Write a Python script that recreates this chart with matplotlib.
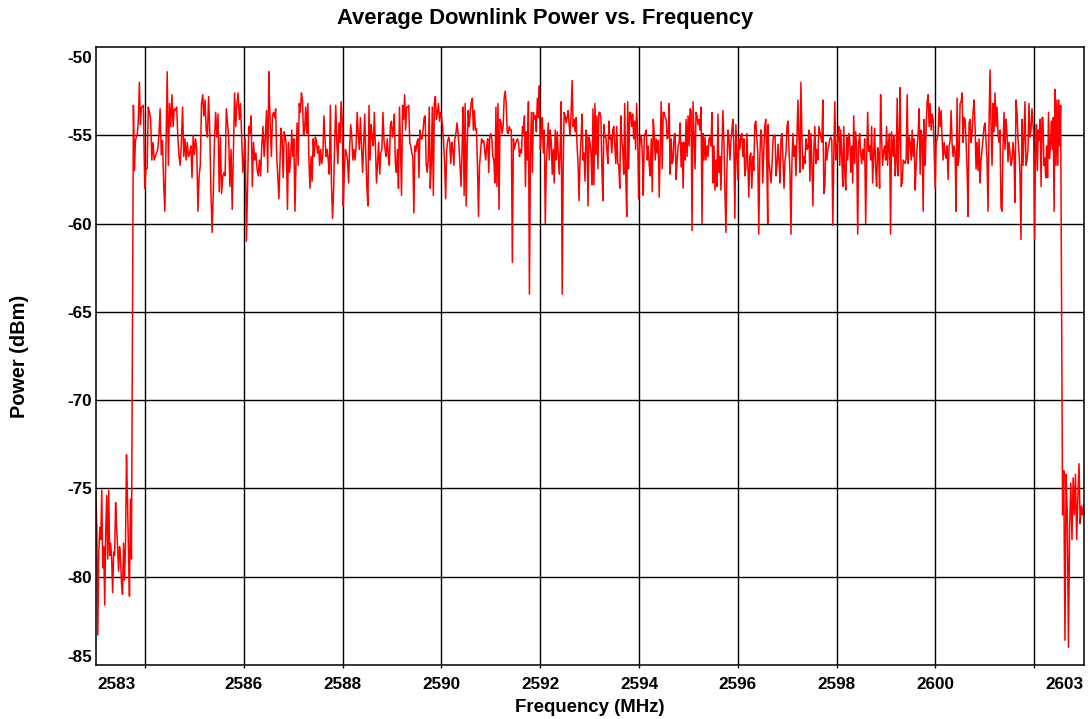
import numpy as np
import matplotlib
matplotlib.use("Agg")
import matplotlib.pyplot as plt

plt.rcParams['font.family'] = ['Liberation Sans', 'DejaVu Sans']
plt.rcParams['font.weight'] = 'bold'

# sweep readings in dBm, one list per stretch of the band
low_left = [-75.2, -77.2, -83.3, -78.6, -77.2, -77.9, -75.1, -79.5, -78.3, -81.6,
            -77.4, -75.4, -79.0, -75.1, -78.8, -78.1, -79.0, -80.9, -78.6, -78.8,
            -75.8, -77.2, -78.3, -79.7, -78.3, -79.0, -80.4, -81.0, -78.1, -80.2,
            -78.1, -73.1, -75.6, -78.6, -81.1, -75.6, -79.0]
band_a = [-53.3, -57.0, -55.3, -55.1, -54.9, -54.0, -52.0, -54.4, -53.4, -53.4, -53.3]
band_b = [-58.0, -56.9, -56.9, -53.4, -53.7, -54.1, -56.4, -55.4, -56.4, -56.2, -56.0,
          -55.8, -55.0, -53.5, -56.1, -55.3, -57.7, -59.3, -55.6, -51.4, -56.7, -53.2,
          -54.5, -52.7, -54.5, -53.5, -53.6, -53.4, -55.1, -56.2, -56.7, -55.4, -53.4,
          -56.2, -55.2, -56.4, -55.4, -56.2, -56.0, -55.6, -57.4, -55.0, -56.1, -55.2,
          -55.8, -59.3, -57.3, -56.7, -53.2, -52.7, -53.9, -53.0, -54.7, -55.1, -52.8,
          -54.7, -58.2, -60.5, -58.2, -55.2, -53.7, -55.1, -53.8, -58.2, -55.1, -58.3,
          -57.3, -57.1, -57.3, -53.5, -54.3, -55.1, -57.9, -55.8, -59.2, -55.8, -52.6,
          -54.5, -53.2, -52.6, -54.1, -53.2, -55.1, -57.1, -56.2, -55.2, -61.0, -57.9,
          -54.5, -54.9, -53.9, -57.9, -55.4, -56.4, -56.0, -56.9, -57.3, -56.4, -57.3,
          -55.6, -54.5, -56.2, -55.1, -53.6, -57.1, -51.4]
band_c = [-52.6, -54.5, -56.2, -53.9, -53.7, -54.0, -53.5, -56.2, -57.3, -58.6, -56.6,
          -54.6, -55.2, -57.4, -54.8, -55.1, -55.6, -59.2, -55.4, -57.1, -56.2, -54.7,
          -56.2, -55.2, -59.3, -56.4, -54.3, -56.7, -53.2, -53.7, -52.6, -53.0, -55.0,
          -54.7, -53.4, -54.9, -53.2, -56.4, -58.0, -56.2, -57.6, -55.2, -56.2, -55.1,
          -55.3, -56.0, -55.6, -56.7, -55.8, -56.6, -56.1, -53.9, -55.2, -56.2, -55.8,
          -56.4, -57.2, -53.3, -57.7, -59.7, -58.2, -55.4, -53.3, -55.4, -56.6, -54.3,
          -55.4, -53.1, -54.1, -59.0, -57.1, -55.8, -56.0, -56.4, -57.7, -55.6, -54.4,
          -55.1, -56.4, -55.8, -56.4, -55.6, -53.7, -54.9, -55.8, -54.0, -55.6, -57.1,
          -55.6, -53.8, -56.0, -57.9, -59.0, -53.3, -56.4, -54.4, -55.1, -55.6, -53.7,
          -55.8, -57.7, -56.6, -55.4, -57.2, -56.0, -55.8, -53.7, -55.3, -55.8, -56.2,
          -55.2, -56.1, -56.7, -54.4, -54.2, -55.1, -54.5]
band_d = [-53.8, -56.6, -57.1, -55.8, -58.0, -53.4, -55.7, -58.4, -53.3, -54.1, -52.7,
          -54.7, -53.4, -53.4, -53.3, -55.4, -55.6, -56.0, -56.2, -59.4, -55.6, -55.9,
          -55.4, -55.2, -57.4, -54.7, -55.2, -55.2, -54.7, -54.0, -53.9, -56.6, -57.1,
          -56.4, -53.4, -58.0, -56.6, -53.4, -58.4, -53.2, -52.8, -54.1, -53.7, -53.2,
          -54.2, -53.7, -54.0, -54.5, -55.4, -56.6, -58.6, -55.8, -55.3, -55.1, -55.4,
          -56.6, -55.4, -55.8, -56.7, -55.2, -54.9, -54.3, -54.8, -55.6, -56.7, -57.9,
          -55.8, -53.4, -58.4, -53.2, -59.0, -55.6, -53.6, -54.5, -53.7, -53.1, -52.9,
          -54.7, -53.6, -54.7, -54.6, -56.7, -59.6, -56.7, -56.0, -55.2, -55.4, -55.3,
          -55.8, -56.4, -55.6, -55.2, -57.1, -55.1, -54.9, -55.2, -56.2, -56.4, -57.7,
          -53.4, -57.9, -53.2, -59.2, -54.1, -54.3, -54.9, -54.5, -52.9, -52.5, -53.2,
          -54.8, -54.9, -54.5, -54.7, -54.7, -62.2, -55.2, -55.8, -55.5, -55.3, -55.2,
          -55.4]
band_e = [-56.2, -55.8, -56.0, -54.5, -54.9, -53.9, -57.9, -54.8, -56.4, -53.1, -64.0,
          -56.2, -53.7, -57.1, -53.7, -54.1, -53.9, -54.8, -52.9, -54.0, -52.2, -55.8,
          -55.0, -54.0, -56.0, -54.7, -60.0, -56.6, -55.6, -54.3, -56.4, -54.7, -55.4,
          -57.2, -55.8, -57.7, -54.7, -56.4, -54.8, -56.0, -57.2, -55.8, -53.1, -64.0,
          -56.9, -53.7, -53.9, -54.3, -54.0, -53.6, -54.4, -55.0, -53.7, -51.9, -54.5,
          -54.1, -54.8, -54.0, -55.6, -56.6, -58.7, -56.3, -55.2, -53.8, -56.4, -56.0,
          -57.6, -54.7, -55.1, -59.0, -55.1, -55.4, -56.0, -57.8, -53.5, -57.8, -53.2,
          -56.1, -53.9, -56.9, -53.7, -53.7, -54.0, -56.9, -58.7, -54.4, -55.1, -55.1,
          -55.8, -56.6, -54.2, -55.2, -55.1, -56.0, -54.7, -54.5, -55.6, -56.6, -54.5,
          -56.6, -56.7, -58.0, -53.9, -55.2, -55.8, -57.2, -53.2, -57.1, -59.6, -53.1,
          -56.9, -53.7, -53.7, -54.5, -53.8, -55.2, -54.2, -55.8, -53.2, -54.9, -58.6,
          -55.7, -55.0, -55.2, -56.4]
band_f = [-58.4, -55.0, -54.9, -54.7, -56.4, -55.6, -56.7, -57.3, -55.2, -58.2, -54.1,
          -54.9, -56.4, -55.2, -56.0, -55.3, -58.5, -55.8, -53.1, -56.9, -53.7, -53.7,
          -54.0, -54.1, -55.2, -55.1, -53.2, -57.2, -55.2, -56.6, -56.4, -55.0, -54.9,
          -57.5, -56.4, -55.6, -55.4, -54.3, -56.8, -55.4, -58.0, -55.4, -56.4, -54.1,
          -56.2, -53.9, -55.6, -53.5, -53.6, -60.4, -53.1, -54.9, -56.9, -53.7, -53.9,
          -54.4, -54.1, -54.7, -53.4, -60.0, -54.9, -56.4, -55.1, -56.4, -55.6, -56.2,
          -55.2, -55.1, -55.6, -53.7, -57.7, -55.6, -58.1, -56.4, -57.9, -53.8, -57.1,
          -56.2, -58.1, -55.7, -53.6, -55.4, -58.2, -60.5, -56.9, -54.7, -55.1, -56.4,
          -55.4, -54.7, -54.1, -55.6, -59.7, -54.4, -56.0, -57.5, -55.2, -55.8, -55.0,
          -54.9, -56.2, -55.2, -57.3, -56.9, -54.9, -56.6, -58.5, -56.2, -56.0, -58.0,
          -56.2, -57.0, -54.4, -54.2, -55.1, -56.0, -60.6, -56.4, -54.7, -55.1, -57.7,
          -56.0, -54.5, -54.1, -56.2, -60.0]
band_g = [-54.4, -56.6, -57.1, -57.7, -56.6, -55.2, -55.0, -55.0, -57.3, -56.7, -55.5,
          -56.4, -57.7, -55.2, -54.9, -56.4, -58.0, -56.4, -56.0, -54.5, -54.2, -55.8,
          -57.1, -60.6, -56.4, -54.9, -56.2, -55.6, -57.3, -55.2, -53.0, -55.2, -57.1,
          -52.0, -55.1, -56.9, -56.2, -56.6, -55.2, -55.8, -55.7, -54.7, -57.6, -54.9,
          -56.6, -59.0, -55.8, -54.5, -56.6, -55.8, -56.4, -54.5, -54.8, -55.1, -55.4,
          -53.0, -58.3, -57.9, -55.4, -56.4, -55.8, -55.6, -55.2, -55.1, -55.3, -60.1,
          -56.2, -53.1, -56.4, -55.8, -55.1, -54.5, -56.7, -54.7, -56.2, -57.9, -54.5,
          -57.1, -58.1, -55.1, -56.4, -54.9, -55.2, -57.1, -55.6, -57.7, -53.9, -56.6,
          -54.8, -55.8, -60.6, -55.4, -54.9, -56.0, -56.6, -55.8, -56.4, -55.2, -60.0,
          -56.4, -53.7, -55.9, -55.6, -56.4, -54.5, -57.7, -56.2, -54.6, -56.9, -57.9,
          -55.7, -56.0, -58.0, -52.7, -55.2, -56.7, -55.9, -55.6, -56.4, -54.5, -56.7,
          -55.4, -54.9, -60.6, -54.8, -55.6]
band_h = [-56.2, -55.0, -57.3, -56.4, -52.9, -57.3, -55.1, -52.3, -57.9, -57.7, -56.4,
          -56.5, -56.6, -56.3, -52.7, -56.6, -55.1, -55.4, -56.4, -54.7, -56.2, -55.2,
          -58.1, -56.7, -55.6, -54.9, -53.5, -57.2, -54.7, -55.2, -59.3, -54.1, -56.7,
          -54.5, -53.1, -52.7, -54.5, -53.2, -54.7, -53.8, -54.1, -55.8, -58.0, -55.4,
          -55.2, -54.9, -53.4, -54.5, -53.6, -55.2, -56.4, -55.4, -56.0, -56.3, -55.6,
          -57.5, -55.6, -55.3, -53.6, -55.5, -56.2, -55.6, -56.0, -59.3, -52.9, -56.7,
          -56.2, -53.2, -53.1, -52.6, -55.4, -54.0, -54.1, -55.4, -56.9, -59.6, -54.3,
          -54.1, -55.4, -54.9, -53.7, -53.0, -54.5, -56.9, -55.4, -57.0, -55.2, -57.7,
          -56.4, -55.8, -55.2, -54.5, -54.3, -55.4, -56.4, -59.3, -54.3, -51.3, -54.5,
          -56.7, -53.2, -54.8, -52.6, -54.5, -53.4, -54.9, -55.4, -54.7, -59.1, -59.3,
          -55.6, -53.7, -55.8, -54.1, -54.9, -56.5, -55.4, -56.0, -56.7, -56.4, -55.4,
          -56.1, -58.8, -53.0, -53.7, -55.2, -56.0, -57.2, -60.9, -54.1, -56.7, -55.1,
          -53.1, -56.7, -56.4, -55.8, -53.2, -55.1, -54.7, -53.5]
band_i = [-54.9, -60.9, -56.0, -54.4, -57.0, -54.7, -55.3, -54.1, -57.9, -54.0, -54.0,
          -56.7, -56.3, -57.4, -55.6, -57.4, -53.7, -56.3, -55.6, -54.2, -55.8, -54.0,
          -59.3, -52.4, -56.7, -53.0, -56.7, -53.0, -55.6, -53.3]
low_right = [-76.5, -74.0, -83.6, -74.2, -76.5, -84.0, -77.2, -74.7, -77.9, -74.4,
             -76.5, -74.2, -77.9, -75.6, -73.6, -77.0, -76.0, -76.5, -76.0]

# frequency span (MHz) covered by each stretch
segments = [
    (2583.003, 2583.724, low_left),
    (2583.764, 2583.966, band_a),
    (2583.993, 2586.506, band_b),
    (2586.513, 2589.032, band_c),
    (2589.046, 2591.559, band_d),
    (2591.579, 2594.071, band_e),
    (2594.085, 2596.604, band_f),
    (2596.611, 2599.131, band_g),
    (2599.144, 2601.953, band_h),
    (2601.987, 2602.533, band_i),
    (2602.573, 2603.000, low_right),
]

freq = np.concatenate([np.linspace(f0, f1, len(v)) for f0, f1, v in segments])
power = np.concatenate([np.asarray(v) for f0, f1, v in segments])

x_ticks = [2584, 2586, 2588, 2590, 2592, 2594, 2596, 2598, 2600, 2602]
x_labels = ['', '2586', '2588', '2590', '2592', '2594', '2596', '2598', '2600', '']
y_ticks = [-55, -60, -65, -70, -75, -80]

fig = plt.figure(figsize=(10.91, 7.19), dpi=100)
ax = fig.add_axes([0.0877, 0.0751, 0.9056, 0.8595])
ax.plot(freq, power, color='#ff0000', lw=1.1)

ax.set_xlim(2583, 2603)
ax.set_ylim(-85, -50)
ax.set_xticks(x_ticks)
ax.set_xticklabels(x_labels)
ax.set_yticks(y_ticks)
ax.set_yticklabels([str(v) for v in y_ticks])
ax.tick_params(axis='x', direction='out', length=2.5, width=1, pad=6, labelsize=12.3, colors='black')
ax.tick_params(axis='y', length=0, pad=2.5, labelsize=12.3)
ax.grid(True, color='black', lw=1.0)
for s in ax.spines.values():
    s.set_linewidth(1.1)
    s.set_color('black')

# end labels sit inside the axis limits
ax.annotate('2583', xy=(0, 0), xycoords='axes fraction', xytext=(1, -8.5),
            textcoords='offset points', ha='left', va='top', fontsize=12.3, fontweight='bold')
ax.annotate('2603', xy=(1, 0), xycoords='axes fraction', xytext=(0, -8.5),
            textcoords='offset points', ha='right', va='top', fontsize=12.3, fontweight='bold')
ax.annotate('-50', xy=(0, 1), xycoords='axes fraction', xytext=(-2.5, -3),
            textcoords='offset points', ha='right', va='top', fontsize=12.3, fontweight='bold')
ax.annotate('-85', xy=(0, 0), xycoords='axes fraction', xytext=(-2.5, 0),
            textcoords='offset points', ha='right', va='bottom', fontsize=12.3, fontweight='bold')

fig.suptitle('Average Downlink Power vs. Frequency', x=0.5, y=0.9736, va='center',
             fontsize=15.8, fontweight='bold')
fig.text(0.5408, 1 - 707 / 719, 'Frequency (MHz)', ha='center', va='center',
         fontsize=13.4, fontweight='bold')
fig.text(20 / 1091, 1 - 356 / 719, 'Power (dBm)', ha='center', va='center',
         rotation=90, fontsize=14.4, fontweight='bold')

fig.savefig('out.png', dpi=100)
